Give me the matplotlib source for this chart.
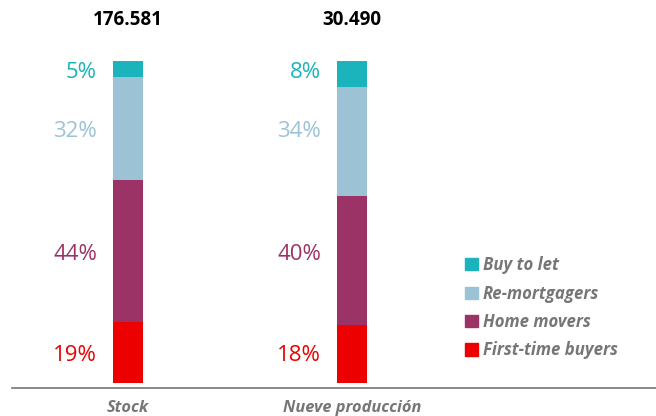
import numpy as np
import matplotlib.pyplot as plt
from matplotlib.patches import Patch

categories = ['Stock', 'Nueve producción']
totals = ['176.581', '30.490']
series = ['First-time buyers', 'Home movers', 'Re-mortgagers', 'Buy to let']
values = {
    'First-time buyers': [19, 18],
    'Home movers': [44, 40],
    'Re-mortgagers': [32, 34],
    'Buy to let': [5, 8],
}
colors = {
    'First-time buyers': '#EC0000',
    'Home movers': '#9C3366',
    'Re-mortgagers': '#9CC3D5',
    'Buy to let': '#1BB3BC',
}
grey = '#767676'
plt.rcParams['font.family'] = ['Open Sans', 'DejaVu Sans']

W, H = 656, 416
fig = plt.figure(figsize=(W/100, H/100), dpi=100)
# axes bottom sits on the grey baseline (388px), 100% reaches 61px
ax = fig.add_axes([12/W, (H-388)/H, 644/W, 327/H])
ax.set_xlim(-116/224, 528/224)
ax.set_ylim(-5*100/322, 100)
ax.axis('off')

x = np.arange(len(categories))
bw = 30/224
bottom = np.zeros(len(categories))
for s in series:
    v = np.array(values[s])
    ax.bar(x, v, bw, bottom=bottom, color=colors[s], linewidth=0)
    # labels are lined up on the first bar's segment centres
    ylab = bottom[0] + v[0]/2
    for i in range(len(x)):
        ax.text(x[i] - bw/2 - 16/224, ylab - 1.0, f'{v[i]}%',
                ha='right', va='center', fontsize=16, color=colors[s])
    bottom += v

for i in range(len(x)):
    ax.text(x[i], 112.8, totals[i], ha='center', va='center',
            fontsize=13.5, fontweight='bold', color='black')
    ax.text(x[i], -7.9, categories[i], ha='center', va='center',
            fontsize=11.8, fontweight='bold', fontstyle='italic', color=grey)

ax.axhline(ax.get_ylim()[0], color=grey, linewidth=1.2, clip_on=False)

handles = [Patch(color=colors[s], label=s) for s in reversed(series)]
leg = fig.legend(handles=handles, loc='upper left', bbox_to_anchor=(450/W, 1-241/H),
                 frameon=False, handlelength=0.75, handleheight=0.75,
                 handletextpad=0.3, labelspacing=0.62,
                 prop={'size': 12.1, 'weight': 'bold', 'style': 'italic'})
for t in leg.get_texts():
    t.set_color(grey)

fig.savefig('out.png', dpi=100)
